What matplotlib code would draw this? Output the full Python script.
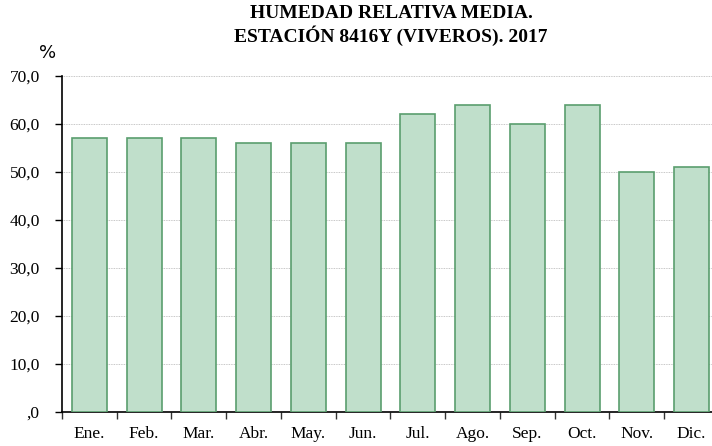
import numpy as np
import matplotlib.pyplot as plt
from matplotlib.ticker import FixedLocator, FuncFormatter

meses = ['Ene.', 'Feb.', 'Mar.', 'Abr.', 'May.', 'Jun.', 'Jul.', 'Ago.', 'Sep.', 'Oct.', 'Nov.', 'Dic.']
humedad = [57, 57, 57, 56, 56, 56, 62, 64, 60, 64, 50, 51]
yticks = [0, 10, 20, 30, 40, 50, 60, 70]

plt.rcParams['font.family'] = ['Liberation Serif', 'DejaVu Serif']

fig = plt.figure(figsize=(7.12, 4.46), dpi=100)
# axes from x=62px to ~719px (right edge runs past the image), y from 76px to 412px
ax = fig.add_axes([62 / 712, 1 - 412 / 446, 657 / 712, 336 / 446])

x = np.arange(len(meses))
ax.bar(x, humedad, width=0.64, color='#c0dfcb', edgecolor='#5a9e6e', linewidth=1.2, zorder=3)

ax.set_xlim(-0.5, len(meses) - 0.5)
ax.set_ylim(0, 70)
ax.set_yticks(yticks)
ax.yaxis.set_major_formatter(FuncFormatter(lambda v, p: ',0' if v == 0 else f'{v:.1f}'.replace('.', ',')))
ax.set_xticks(x)
ax.set_xticklabels(meses, fontsize=12.5)
ax.tick_params(axis='x', length=0, pad=10)
ax.xaxis.set_minor_locator(FixedLocator(np.arange(-0.5, len(meses), 1)))
ax.tick_params(axis='x', which='minor', length=5, width=1, color='#333333')
ax.tick_params(axis='y', labelsize=12.5, length=5, width=1, pad=11)

ax.grid(axis='y', color='#b4b4b4', linestyle=(0, (1, 1)), linewidth=0.6, zorder=0)
ax.spines['top'].set_visible(False)
ax.spines['right'].set_visible(False)
ax.spines['left'].set_linewidth(1.2)
ax.spines['bottom'].set_linewidth(1.2)

fig.text(48 / 712, 1 - 53 / 446, '%', fontsize=13, family='DejaVu Sans', ha='center', va='center')
fig.text(391 / 712, 1 - 14 / 446, 'HUMEDAD RELATIVA MEDIA.', fontsize=14, fontweight='bold', ha='center', va='center')
fig.text(391 / 712, 1 - 36 / 446, 'ESTACIÓN 8416Y (VIVEROS). 2017', fontsize=14, fontweight='bold', ha='center', va='center')

fig.savefig('out.png', dpi=100)
